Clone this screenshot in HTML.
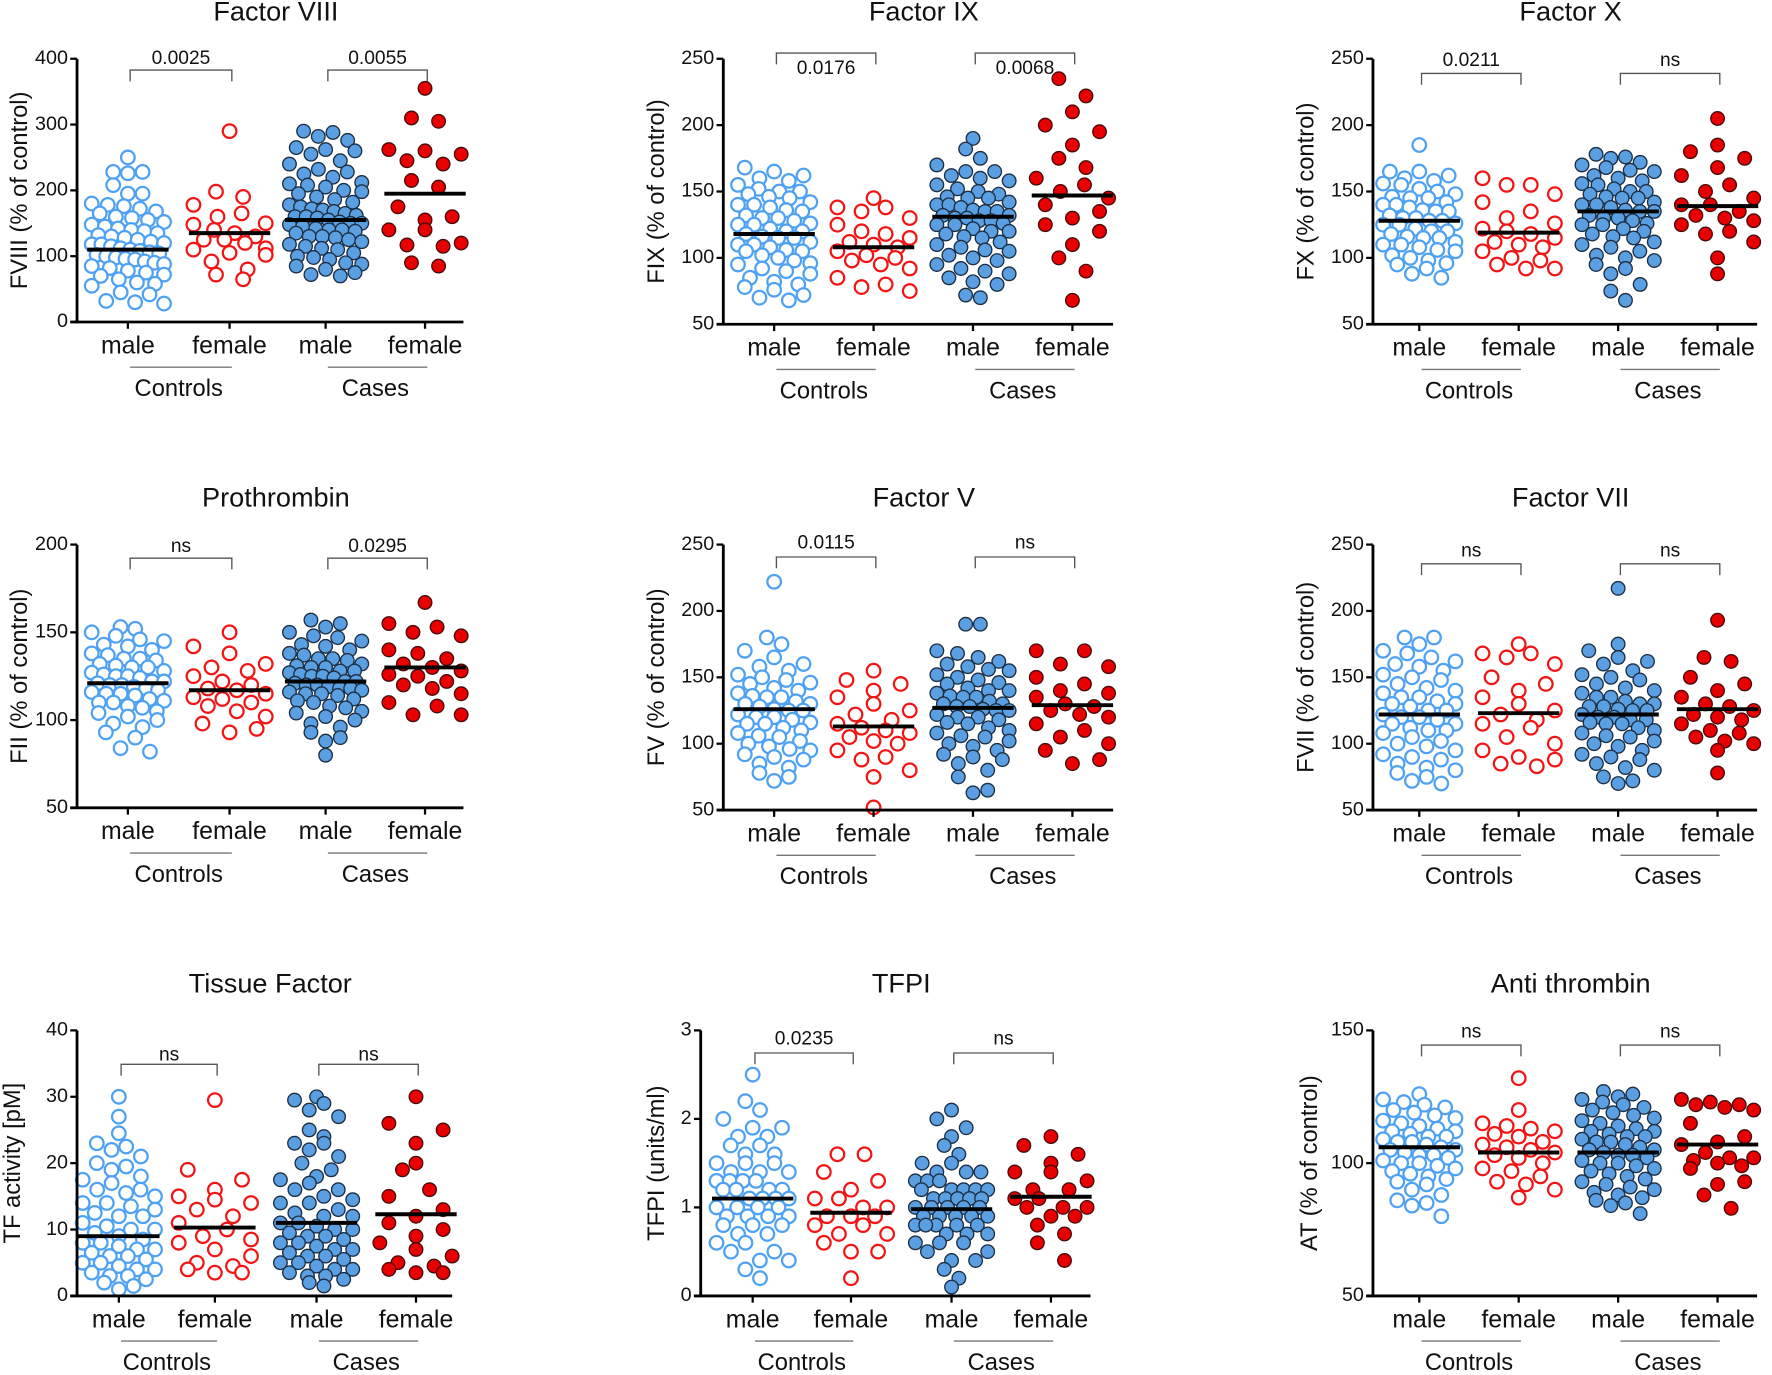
<!DOCTYPE html>
<html><head><meta charset="utf-8"><style>
html,body{margin:0;padding:0;background:#fff;}
svg{display:block;font-family:"Liberation Sans",Arial,sans-serif;}
</style></head><body>
<svg id="fig" width="1772" height="1375" viewBox="0 0 1568 1217" xmlns="http://www.w3.org/2000/svg"></svg>
<script>
// ---- data (values per group: controls-male, controls-female, cases-male, cases-female) ----
const groupLabels = ["male","female","male","female"];
const fviii_cm=[250,228,228,226,208,195,195,180,178,176,172,168,165,160,158,155,152,148,145,142,140,138,135,132,130,128,125,122,120,118,115,112,110,108,106,104,100,98,96,92,90,88,85,82,78,75,72,70,65,60,58,55,45,42,32,30,28,95,102,118];
const fviii_cf=[290,198,190,178,165,160,150,148,140,135,130,125,125,120,112,110,105,102,92,80,72,65];
const fviii_km=[290,288,282,276,265,262,260,255,245,240,232,228,225,220,212,210,208,205,200,198,195,190,186,182,178,175,172,168,165,162,160,158,155,152,150,148,145,142,140,138,135,130,128,125,122,118,115,112,110,105,100,98,95,90,88,85,80,75,72,70,150,160,140,170,130];
const fviii_kf=[355,305,310,262,255,260,240,245,205,215,175,155,160,140,140,115,120,117,85,90];
const fviii_means=[110,135,155,195];
const fix_cm=[168,165,162,160,158,155,152,150,150,148,146,145,142,140,138,136,135,132,130,128,126,125,122,120,120,118,116,115,112,110,108,106,105,102,100,98,96,95,92,90,88,85,82,80,78,76,72,68,70,125,130,115,110,140,105];
const fix_cf=[145,138,138,135,130,125,120,118,115,112,110,108,105,102,100,98,95,92,85,80,78,75];
const fix_km=[190,182,175,170,165,165,162,160,158,155,152,150,148,146,145,142,140,138,136,135,132,130,128,126,125,122,120,118,116,115,112,110,108,106,105,102,100,98,95,92,90,88,85,82,80,72,70,130,135,140,125,120,145,128,132];
const fix_kf=[235,222,210,200,195,185,175,168,160,155,150,145,140,135,130,125,120,110,100,90,68];
const fix_means=[118,108,131,147];
const fx_cm=[185,165,165,162,160,158,156,155,152,150,148,146,145,142,140,138,136,135,132,130,128,126,125,122,120,118,116,115,112,110,108,106,105,102,100,98,96,95,92,88,85,130,135,125,120,140,115,110,145,128];
const fx_cf=[160,155,155,148,142,135,130,126,122,120,118,115,112,110,108,105,100,98,95,92,92];
const fx_km=[178,176,175,172,170,168,166,165,162,160,158,156,155,152,150,148,146,145,142,140,138,136,135,132,130,128,126,125,122,120,118,116,115,112,110,108,105,102,100,98,95,92,88,80,75,68,135,140,130,145,125,150];
const fx_kf=[205,185,180,175,168,162,155,150,145,140,140,135,132,130,128,125,120,118,112,100,88];
const fx_means=[128,119,135,139];
const fii_cm=[153,152,150,148,146,145,143,142,140,138,137,135,134,132,131,130,128,127,126,125,124,122,121,120,119,118,117,116,115,114,112,111,110,108,107,105,104,102,100,98,96,93,90,84,82,120,125,130,115,110,135,122];
const fii_cf=[150,142,138,132,130,128,125,122,120,118,117,115,113,112,110,108,105,102,98,95,93];
const fii_km=[157,155,153,150,148,147,145,143,142,140,138,137,135,134,132,131,130,128,127,126,125,124,122,121,120,119,118,117,116,115,114,112,111,110,108,107,105,104,102,100,98,96,93,90,88,80,120,125,130,115,122,128,118,135];
const fii_kf=[167,155,153,150,148,140,138,135,132,130,128,126,125,122,120,118,115,110,108,103,103];
const fii_means=[121,117,122,130];
const fv_cm=[222,180,175,170,165,160,158,155,152,150,148,146,145,142,140,138,136,135,132,130,128,126,125,122,120,118,116,115,112,110,108,106,105,102,100,98,96,95,92,90,88,85,82,78,75,72,125,130,120,135,115];
const fv_cf=[155,148,145,140,135,130,125,122,118,115,112,110,108,105,102,100,95,90,88,80,75,52];
const fv_km=[190,190,170,168,165,162,160,158,156,155,152,150,148,146,145,142,140,138,136,135,132,130,128,126,125,122,120,118,116,115,112,110,108,106,105,102,100,98,95,92,90,88,85,80,75,65,63,125,130,135,120,140,128];
const fv_kf=[170,170,160,158,150,145,140,138,135,130,128,125,122,120,115,110,105,100,95,88,85];
const fv_means=[126,113,127,129];
const fvii_cm=[180,180,175,170,168,165,162,160,158,155,152,150,148,145,142,140,138,135,132,130,128,125,122,120,118,115,112,110,108,105,102,100,98,95,92,90,88,85,82,80,78,75,72,70,125,130,120,115,135,110];
const fvii_cf=[175,168,168,165,160,150,145,140,135,130,125,122,118,115,112,105,100,95,90,88,85,83];
const fvii_km=[217,175,170,165,162,160,155,152,150,148,145,142,140,138,135,132,130,128,126,125,122,120,118,116,115,112,110,108,106,105,102,100,98,95,92,90,88,85,82,80,75,72,70,125,130,120,115,135,128,118];
const fvii_kf=[193,165,162,150,145,140,135,130,128,125,122,120,118,115,110,108,105,102,100,95,78];
const fvii_means=[122,123,122,126];
const tf_cm=[30,27,24.5,23,22.5,22,21,20,19.5,19,18,17.5,17,16,15.5,15,14,13.5,13,12.5,12,11,10.5,10,9.5,9,8.5,8,7.5,7,6.5,6,5.5,5,4.5,4,3.5,3,2.5,2,1.5,1,10,12,8,6,14,16,4,3,5,7];
const tf_cf=[29.5,19,17.5,16,15,14.5,14,13,12,11,10,9,8.5,8,7,6,5,4.5,4,3.5,3.5];
const tf_km=[30,29.5,29,28,27,25,24,23,23,22,21,20,19,18,17.5,17,16,15,14.5,14,13,12.5,12,11,10.5,10,9.5,9,8.5,8,7.5,7,6.5,6,5.5,5,4.5,4,3.5,3,2.5,2,1.5,10,12,8,6,14,16,4,3,5,7,11,9];
const tf_kf=[30,26,25,23,20,19,16,15,13,12,11,10,9,8,7,6,5,4.5,4,3.5,3.5];
const tf_means=[9,10.3,11,12.3];
const tfpi_cm=[2.5,2.2,2.1,2.0,1.9,1.9,1.8,1.8,1.7,1.7,1.6,1.6,1.5,1.5,1.5,1.4,1.4,1.4,1.3,1.3,1.3,1.2,1.2,1.2,1.1,1.1,1.1,1.0,1.0,1.0,0.9,0.9,0.9,0.8,0.8,0.8,0.7,0.7,0.6,0.6,0.5,0.5,0.4,0.4,0.3,0.2,1.2,1.0,0.9,1.3,1.1];
const tfpi_cf=[1.6,1.6,1.4,1.3,1.2,1.1,1.1,1.0,1.0,0.9,0.9,0.9,0.8,0.8,0.7,0.7,0.6,0.5,0.5,0.2];
const tfpi_km=[2.1,2.0,1.9,1.8,1.7,1.6,1.5,1.5,1.4,1.4,1.4,1.3,1.3,1.3,1.2,1.2,1.2,1.2,1.1,1.1,1.1,1.1,1.0,1.0,1.0,1.0,0.9,0.9,0.9,0.9,0.8,0.8,0.8,0.8,0.7,0.7,0.7,0.6,0.6,0.6,0.5,0.5,0.4,0.4,0.3,0.2,0.1,1.0,1.1,0.9,1.2,0.8];
const tfpi_kf=[1.8,1.7,1.6,1.5,1.4,1.4,1.3,1.2,1.2,1.1,1.1,1.0,1.0,1.0,0.9,0.9,0.8,0.7,0.6,0.4];
const tfpi_means=[1.1,0.94,0.98,1.12];
const at_cm=[126,124,123,122,121,120,119,118,117,116,115,114,113,112,111,110,109,108,107,106,105,104,103,102,101,100,99,98,97,96,95,94,93,92,90,88,86,85,84,80,110,105,100,108,103,112];
const at_cf=[132,120,115,114,113,112,111,110,108,107,106,105,104,103,102,100,98,97,95,93,92,90,87];
const at_km=[127,126,125,124,123,122,121,120,119,118,117,116,115,114,113,112,111,110,109,108,107,106,105,104,103,102,101,100,99,98,97,96,95,94,93,92,91,90,89,88,87,86,85,84,81,105,110,100,108,103,112];
const at_kf=[124,123,122,122,121,120,115,110,108,107,104,102,102,101,100,99,98,93,92,88,83];
const at_means=[106,104,104,107];
const fviii_ticks=[0,100,200,300,400];
const f250_ticks=[50,100,150,200,250];
const fii_ticks=[50,100,150,200];
const tf_ticks=[0,10,20,30,40];
const tfpi_ticks=[0,1,2,3];
const at_ticks=[50,100,150];

// ---- layout ----
const panels=[
 {id:"factor-viii",title:"Factor VIII",yt:"FVIII (% of control)",ox:68,top:52,bot:285,min:0,max:400,ticks:fviii_ticks,cats:[113,203,288,376],xend:410,yto:50,groups:[fviii_cm,fviii_cf,fviii_km,fviii_kf],means:fviii_means,p:["0.0025","0.0055"],by:62,ty:52},
 {id:"factor-ix",title:"Factor IX",yt:"FIX (% of control)",ox:640,top:52,bot:287,min:50,max:250,ticks:f250_ticks,cats:[685,773,861,949],xend:985,yto:58,groups:[fix_cm,fix_cf,fix_km,fix_kf],means:fix_means,p:["0.0176","0.0068"],by:47,ty:61},
 {id:"factor-x",title:"Factor X",yt:"FX (% of control)",ox:1215,top:52,bot:287,min:50,max:250,ticks:f250_ticks,cats:[1256,1344,1432,1520],xend:1555,yto:58,groups:[fx_cm,fx_cf,fx_km,fx_kf],means:fx_means,p:["0.0211","ns"],by:65,ty:54},
 {id:"prothrombin",title:"Prothrombin",yt:"FII (% of control)",ox:68,top:482,bot:715,min:50,max:200,ticks:fii_ticks,cats:[113,203,288,376],xend:410,yto:50,groups:[fii_cm,fii_cf,fii_km,fii_kf],means:fii_means,p:["ns","0.0295"],by:494,ty:484},
 {id:"factor-v",title:"Factor V",yt:"FV (% of control)",ox:640,top:482,bot:717,min:50,max:250,ticks:f250_ticks,cats:[685,773,861,949],xend:985,yto:58,groups:[fv_cm,fv_cf,fv_km,fv_kf],means:fv_means,p:["0.0115","ns"],by:493,ty:481},
 {id:"factor-vii",title:"Factor VII",yt:"FVII (% of control)",ox:1215,top:482,bot:717,min:50,max:250,ticks:f250_ticks,cats:[1256,1344,1432,1520],xend:1555,yto:58,groups:[fvii_cm,fvii_cf,fvii_km,fvii_kf],means:fvii_means,p:["ns","ns"],by:499,ty:488},
 {id:"tissue-factor",title:"Tissue Factor",yt:"TF activity [pM]",ox:68,top:912,bot:1147,min:0,max:40,ticks:tf_ticks,cats:[105,190,280,368],xend:400,yto:56,groups:[tf_cm,tf_cf,tf_km,tf_kf],means:tf_means,p:["ns","ns"],by:942,ty:934},
 {id:"tfpi",title:"TFPI",yt:"TFPI (units/ml)",ox:620,top:912,bot:1147,min:0,max:3,ticks:tfpi_ticks,cats:[666,753,842,930],xend:965,yto:38,groups:[tfpi_cm,tfpi_cf,tfpi_km,tfpi_kf],means:tfpi_means,p:["0.0235","ns"],by:932,ty:920},
 {id:"anti-thrombin",title:"Anti thrombin",yt:"AT (% of control)",ox:1215,top:912,bot:1147,min:50,max:150,ticks:at_ticks,cats:[1256,1344,1432,1520],xend:1555,yto:55,groups:[at_cm,at_cf,at_km,at_kf],means:at_means,p:["ns","ns"],by:925,ty:914}
];
const NS="http://www.w3.org/2000/svg";
const svg=document.getElementById('fig');
function mk(tag,attrs,parent){const e=document.createElementNS(NS,tag);for(const k in attrs)e.setAttribute(k,attrs[k]);(parent||svg).appendChild(e);return e;}
const styles=[
 {fill:"#ffffff",stroke:"#4ea1f3"},
 {fill:"#ffffff",stroke:"#f21515"},
 {fill:"#5b9fe3",stroke:"#1d2f44"},
 {fill:"#e80000",stroke:"#4a0a0a"}];
const R=6;
panels.forEach(P=>{
 const g=mk('g',{});
 
 
 const ys=v=>P.bot-(v-P.min)/(P.max-P.min)*(P.bot-P.top);
 const cx=(P.ox+P.xend)/2+5;
 const t=mk('text',{x:cx,y:P.top-40,'font-size':24,'text-anchor':'middle','dominant-baseline':'middle',fill:'#111'},g);
 t.textContent=P.title;
 
 
 const yt=mk('text',{x:0,y:0,'font-size':21,'text-anchor':'middle','dominant-baseline':'middle',fill:'#111',transform:`translate(${P.ox-P.yto},${(P.top+P.bot)/2}) rotate(-90)`},g);
 yt.textContent=P.yt;
 
 
 // points
 P.groups.forEach((vals,gi)=>{
  const gg=mk('g',{},g);
  
  
  const male=(gi%2===0);
  const binH=male?18:22, sMax=male?13:24, maxW=64;
  const bins={};
  vals.forEach(v=>{const y=ys(v);const b=Math.floor(y/binH);(bins[b]=bins[b]||[]).push(y);});
  Object.keys(bins).forEach(b=>{
   const arr=bins[b].slice().sort((a,c)=>a-c);const n=arr.length;
   const sp=n>1?Math.min(maxW/(n-1),sMax):0;
   // interleave order so x doesn't follow y monotonically
   const order=[];for(let i=0;i<n;i+=2)order.push(i);for(let i=1;i<n;i+=2)order.push(i);
   arr.forEach((y,k)=>{
    const i=order[k];
    const x=P.cats[gi]+(i-(n-1)/2)*sp;
    const c=mk('circle',{cx:x,cy:y,r:R,fill:styles[gi].fill,stroke:styles[gi].stroke,'stroke-width':gi<2?2:1.2},gg);
    
    
   });
  });
 });
 // means
 P.means.forEach((m,gi)=>{
  const l=mk('line',{x1:P.cats[gi]-36,x2:P.cats[gi]+36,y1:ys(m),y2:ys(m),stroke:'#000','stroke-width':3.5},g);
  
  
 });
 // axes
 const ya=mk('line',{x1:P.ox,x2:P.ox,y1:P.top,y2:P.bot+1,stroke:'#000','stroke-width':2.5},g);
 
 
 const xa=mk('line',{x1:P.ox-6,x2:P.xend,y1:P.bot,y2:P.bot,stroke:'#000','stroke-width':2.5},g);
 
 
 P.ticks.forEach(tv=>{
  const y=ys(tv);
  mk('line',{x1:P.ox-6,x2:P.ox,y1:y,y2:y,stroke:'#000','stroke-width':2},g);
  const tl=mk('text',{x:P.ox-8,y:y,'font-size':17.5,'text-anchor':'end','dominant-baseline':'middle',fill:'#111'},g);
  tl.textContent=tv;
  
  
 });
 P.cats.forEach((c,gi)=>{
  mk('line',{x1:c,x2:c,y1:P.bot,y2:P.bot+6,stroke:'#000','stroke-width':2},g);
  const cl=mk('text',{x:c,y:P.bot+22,'font-size':22,'text-anchor':'middle','dominant-baseline':'middle',fill:'#111'},g);
  cl.textContent=groupLabels[gi];
  
  
 });
 [["Controls",0],["Cases",2]].forEach(([name,i])=>{
  mk('line',{x1:P.cats[i]+2,x2:P.cats[i+1]+2,y1:P.bot+40,y2:P.bot+40,stroke:'#777','stroke-width':1.2},g);
  const gl=mk('text',{x:(P.cats[i]+P.cats[i+1])/2,y:P.bot+60,'font-size':21,'text-anchor':'middle','dominant-baseline':'middle',fill:'#111'},g);
  gl.textContent=name;
  
  
  const br=mk('path',{d:`M${P.cats[i]+2},${P.by+10}V${P.by}H${P.cats[i+1]+2}V${P.by+10}`,fill:'none',stroke:'#555','stroke-width':1.2},g);
  
  
  const pt=mk('text',{x:(P.cats[i]+P.cats[i+1])/2+2,y:P.ty,'font-size':17,'text-anchor':'middle','dominant-baseline':'middle',fill:'#111'},g);
  pt.textContent=P.p[i/2];
  
  
 });
});
</script>
</body></html>
